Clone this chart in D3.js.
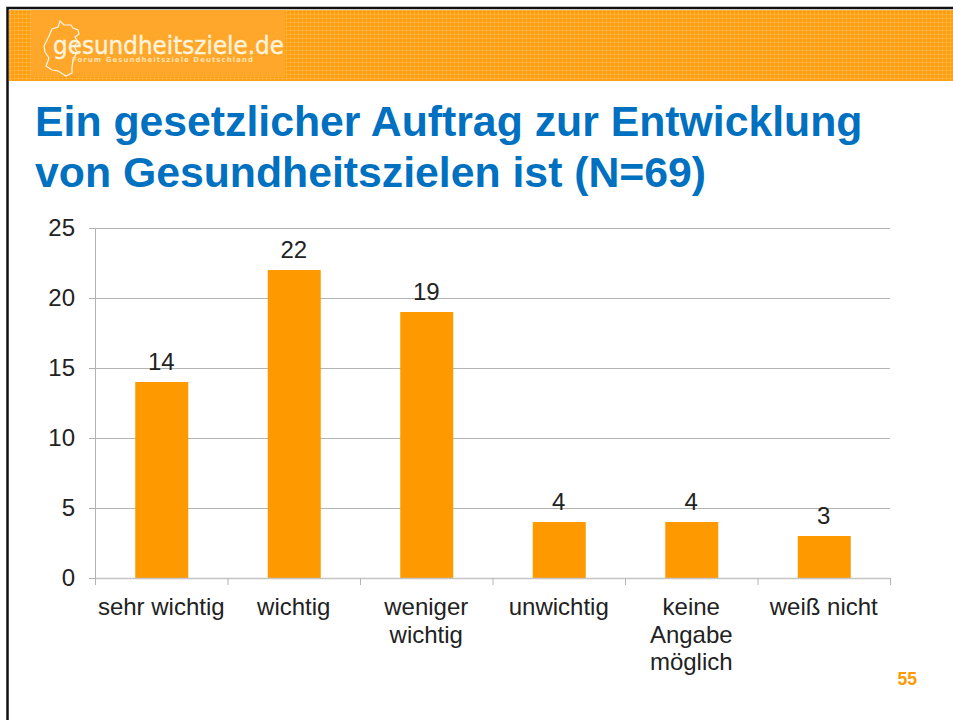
<!DOCTYPE html>
<html><head><meta charset="utf-8">
<script src="https://cdnjs.cloudflare.com/ajax/libs/d3/7.8.5/d3.min.js"></script>
<style>html,body{margin:0;padding:0;background:#fff}svg{display:block}text{font-family:"Liberation Sans",Arial,sans-serif}</style>
</head><body><svg id="c" width="953" height="720"></svg>
<script>
const categories=[["sehr wichtig"],["wichtig"],["weniger","wichtig"],["unwichtig"],["keine","Angabe","möglich"],["weiß nicht"]];
const values=[14,22,19,4,4,3];
const yTicks=[0,5,10,15,20,25];
const titleLines=["Ein gesetzlicher Auftrag zur Entwicklung","von Gesundheitszielen ist (N=69)"];
const svg=d3.select("#c");
const defs=svg.append("defs");
const pat=defs.append("pattern").attr("id","grid").attr("patternUnits","userSpaceOnUse").attr("width",4).attr("height",4);
pat.append("rect").attr("width",4).attr("height",4).attr("fill","#ff9f0f");
pat.append("rect").attr("x",2).attr("width",1).attr("height",4).attr("fill","#ffbf5c").attr("opacity",.5);
pat.append("rect").attr("y",2).attr("width",4).attr("height",1).attr("fill","#ffbf5c").attr("opacity",.5);
// header
svg.append("rect").attr("x",9).attr("y",10).attr("width",944).attr("height",71).attr("fill","url(#grid)");
svg.append("rect").attr("x",31).attr("y",10).attr("width",254).attr("height",67).attr("fill","#ffa72b");
// frame
svg.append("path").attr("d","M7.5 720V8H953").attr("fill","none").attr("stroke","#111").attr("stroke-width",2.5);
// logo
svg.append("path").attr("d","M60 21L64 25L71 25L73 28L78 30L79 34L75 37L78 42L74 46L77 52L73 60L72 68L72 73L66 76L58 71L52 70L46 66L49 58L45 52L44 46L49 36L52 29L58 27Z")
 .attr("fill","none").attr("stroke","#fff").attr("stroke-width",1.2).attr("opacity",.9);
svg.append("text").attr("x",53).attr("y",54).attr("font-size",25).attr("fill","#fff3dc").attr("stroke","#fff3dc").attr("stroke-width",.4).style("font-family","'DejaVu Sans'").attr("textLength",231).attr("lengthAdjust","spacingAndGlyphs").text("gesundheitsziele.de");
svg.append("text").attr("x",72).attr("y",62).attr("font-size",7).attr("fill","#ffe2b0").style("font-family","'DejaVu Sans'").attr("font-weight","bold").attr("textLength",181).text("Forum Gesundheitsziele Deutschland");
// title
svg.append("g").selectAll("text").data(titleLines).join("text")
 .attr("x",35).attr("y",(d,i)=>136+i*51).attr("font-size",42.75).attr("font-weight","bold").attr("fill","#0070c0").text(d=>d);
// chart
const plotLeft=95,plotRight=890,plotTop=228,plotBottom=578;
const x=d3.scaleBand().domain(d3.range(categories.length)).range([plotLeft,plotRight]).paddingInner(0.6).paddingOuter(0.3);
const band=(plotRight-plotLeft)/categories.length;
const y=d3.scaleLinear().domain([0,25]).range([plotBottom,plotTop]);
const gy=svg.append("g").attr("transform",`translate(${plotLeft},0)`).call(d3.axisLeft(y).tickValues(yTicks).tickSize(6).tickPadding(14));
gy.select(".domain").remove();
gy.selectAll(".tick line").attr("stroke","#b0b0b0");
gy.selectAll("text").attr("font-size",24).attr("fill","#222");
svg.append("g").selectAll("line").data(yTicks.filter(t=>t>0)).join("line")
 .attr("x1",plotLeft).attr("x2",plotRight).attr("y1",d=>y(d)+.5).attr("y2",d=>y(d)+.5).attr("stroke","#b4b4b4");
svg.append("line").attr("x1",plotLeft+.5).attr("x2",plotLeft+.5).attr("y1",plotTop).attr("y2",plotBottom).attr("stroke","#b4b4b4");
const c=i=>plotLeft+band*(i+.5);
svg.append("g").selectAll("rect").data(values).join("rect")
 .attr("x",(d,i)=>c(i)-x.bandwidth()/2+.5).attr("width",x.bandwidth()).attr("y",d=>y(d)).attr("height",d=>plotBottom-y(d)).attr("fill","#ff9900");
svg.append("line").attr("x1",plotLeft).attr("x2",plotRight).attr("y1",plotBottom+.5).attr("y2",plotBottom+.5).attr("stroke","#c4c4c4").attr("stroke-width",1.5);
svg.append("g").selectAll("line").data(d3.range(categories.length+1)).join("line")
 .attr("x1",i=>plotLeft+band*i+.5).attr("x2",i=>plotLeft+band*i+.5).attr("y1",plotBottom).attr("y2",plotBottom+7).attr("stroke","#b4b4b4");
svg.append("g").selectAll("text").data(values).join("text")
 .attr("x",(d,i)=>c(i)).attr("y",d=>y(d)-12).attr("text-anchor","middle").attr("font-size",24).attr("fill","#222").text(d=>d);
const lab=svg.append("g").selectAll("text").data(categories).join("text")
 .attr("text-anchor","middle").attr("font-size",24).attr("fill","#222");
lab.each(function(d,i){d3.select(this).selectAll("tspan").data(d).join("tspan").attr("x",c(i)).attr("y",(l,j)=>615+j*27.5).text(l=>l);});
svg.append("text").attr("x",917).attr("y",685).attr("text-anchor","end").attr("font-size",17.5).attr("font-weight","bold").attr("fill","#ff9900").text("55");
</script></body></html>
